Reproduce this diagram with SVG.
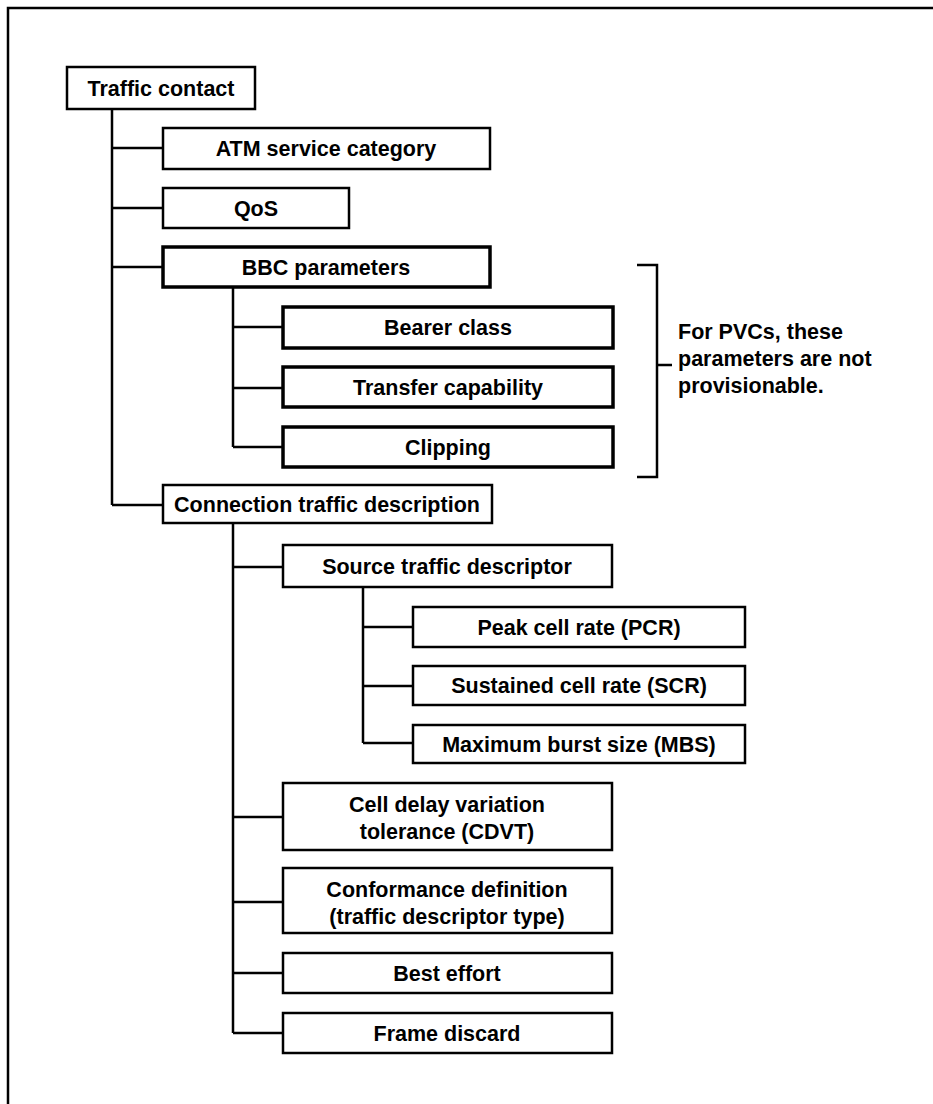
<svg xmlns="http://www.w3.org/2000/svg" width="933" height="1104" viewBox="0 0 933 1104">
  <style>
    .box { fill: #fff; stroke: #000; stroke-width: 2.5; }
    .box.heavy { stroke-width: 3.5; }
    .lbl { font-family: "Liberation Sans", Arial, sans-serif; font-weight: bold; font-size: 21.5px; fill: #000; text-anchor: middle; }
    .note { font-family: "Liberation Sans", Arial, sans-serif; font-weight: bold; font-size: 21.5px; fill: #000; }
    .wire { fill: none; stroke: #000; stroke-width: 2.5; }
  </style>
  <rect width="933" height="1104" fill="#fff"/>

  <!-- page frame -->
  <path class="wire" d="M8,1104 V8 H933"/>

  <!-- tree connectors -->
  <g id="connectors">
    <!-- from Traffic contact -->
    <path class="wire" d="M112,109 V505 M112,148 H163 M112,208 H163 M112,267 H163 M112,505 H163"/>
    <!-- from BBC parameters -->
    <path class="wire" d="M233,287 V447 M233,327 H283 M233,388 H283 M233,447 H283"/>
    <!-- from Connection traffic description -->
    <path class="wire" d="M233,523 V1033 M233,567 H283 M233,817 H283 M233,902 H283 M233,973 H283 M233,1033 H283"/>
    <!-- from Source traffic descriptor -->
    <path class="wire" d="M363,587 V743 M363,627 H413 M363,686 H413 M363,743 H413"/>
  </g>

  <g id="traffic-contact">
    <rect class="box" x="67" y="67" width="188" height="42"/>
    <text class="lbl" x="161" y="96">Traffic contact</text>
  </g>
  <g id="atm-service-category">
    <rect class="box" x="163" y="128" width="327" height="41"/>
    <text class="lbl" x="326" y="156">ATM service category</text>
  </g>
  <g id="qos">
    <rect class="box" x="163" y="188" width="186" height="40"/>
    <text class="lbl" x="256" y="216">QoS</text>
  </g>
  <g id="bbc-parameters">
    <rect class="box heavy" x="163" y="247" width="327" height="40"/>
    <text class="lbl" x="326" y="275">BBC parameters</text>
  </g>
  <g id="bearer-class">
    <rect class="box heavy" x="283" y="307" width="330" height="41"/>
    <text class="lbl" x="448" y="335">Bearer class</text>
  </g>
  <g id="transfer-capability">
    <rect class="box heavy" x="283" y="367" width="330" height="40"/>
    <text class="lbl" x="448" y="395">Transfer capability</text>
  </g>
  <g id="clipping">
    <rect class="box heavy" x="283" y="427" width="330" height="40"/>
    <text class="lbl" x="448" y="455">Clipping</text>
  </g>

  <!-- bracket and note for the BBC parameters -->
  <g id="pvc-note">
    <path class="wire" d="M637,265 H657 V477 H637 M657,365 H672"/>
    <text class="note" x="678" y="339">For PVCs, these</text>
    <text class="note" x="678" y="366">parameters are not</text>
    <text class="note" x="678" y="393">provisionable.</text>
  </g>

  <g id="connection-traffic-description">
    <rect class="box" x="163" y="485" width="329" height="38"/>
    <text class="lbl" x="327" y="512">Connection traffic description</text>
  </g>
  <g id="source-traffic-descriptor">
    <rect class="box" x="283" y="545" width="329" height="42"/>
    <text class="lbl" x="447" y="574">Source traffic descriptor</text>
  </g>
  <g id="pcr">
    <rect class="box" x="413" y="607" width="332" height="40"/>
    <text class="lbl" x="579" y="635">Peak cell rate (PCR)</text>
  </g>
  <g id="scr">
    <rect class="box" x="413" y="666" width="332" height="39"/>
    <text class="lbl" x="579" y="693">Sustained cell rate (SCR)</text>
  </g>
  <g id="mbs">
    <rect class="box" x="413" y="725" width="332" height="38"/>
    <text class="lbl" x="579" y="752">Maximum burst size (MBS)</text>
  </g>
  <g id="cdvt">
    <rect class="box" x="283" y="783" width="329" height="67"/>
    <text class="lbl" x="447" y="812">Cell delay variation</text>
    <text class="lbl" x="447" y="839">tolerance (CDVT)</text>
  </g>
  <g id="conformance-definition">
    <rect class="box" x="283" y="868" width="329" height="65"/>
    <text class="lbl" x="447" y="897">Conformance definition</text>
    <text class="lbl" x="447" y="924">(traffic descriptor type)</text>
  </g>
  <g id="best-effort">
    <rect class="box" x="283" y="953" width="329" height="40"/>
    <text class="lbl" x="447" y="981">Best effort</text>
  </g>
  <g id="frame-discard">
    <rect class="box" x="283" y="1013" width="329" height="40"/>
    <text class="lbl" x="447" y="1041">Frame discard</text>
  </g>
</svg>
